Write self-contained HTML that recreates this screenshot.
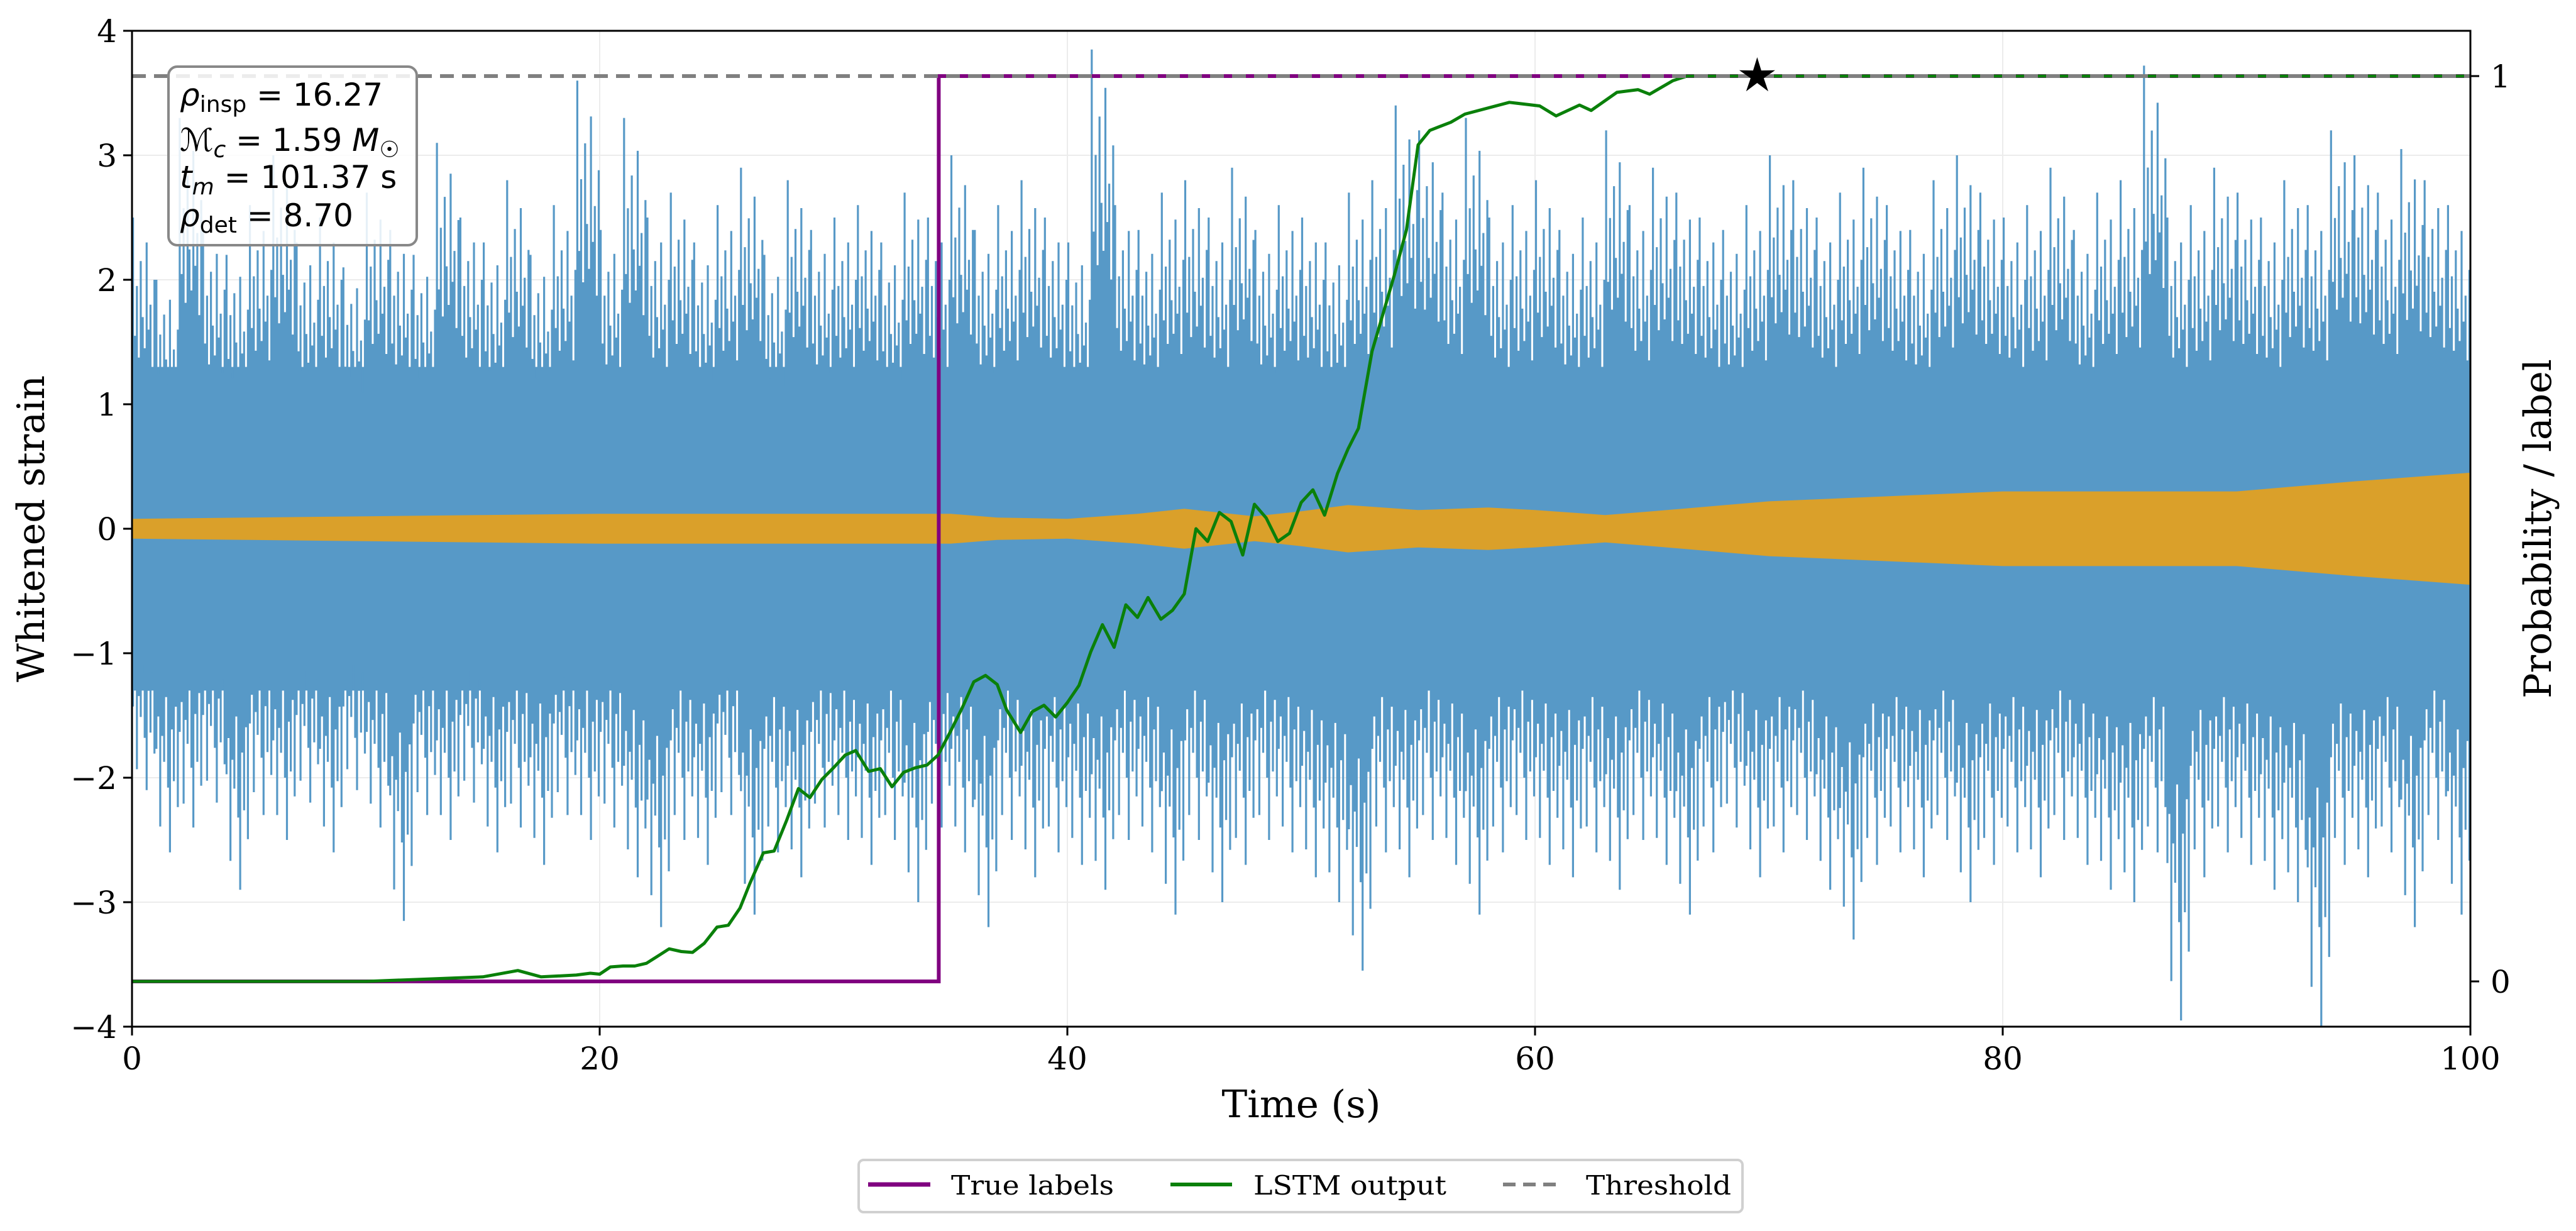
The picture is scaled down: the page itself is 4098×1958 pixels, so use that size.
<!DOCTYPE html>
<html><head><meta charset="utf-8"><style>
html,body{margin:0;padding:0;background:#fff;}
svg{display:block;}
</style></head><body>
<svg id="chart" xmlns="http://www.w3.org/2000/svg" width="4098" height="1958" viewBox="0 0 4098 1958">
<rect width="4098" height="1958" fill="#fff"/>
<g id="grid"></g>
<g id="blue"></g>
<g id="orange"></g>
<g id="over"></g>
<rect x="210" y="49" width="3720" height="1584" fill="none" stroke="#000" stroke-width="3"/>
<g id="axes" font-family="'DejaVu Serif','Liberation Serif',serif" fill="#000"></g>
<text x="2070" y="1777" font-family="'DejaVu Serif','Liberation Serif',serif" font-size="60" text-anchor="middle" textLength="253" lengthAdjust="spacingAndGlyphs">Time (s)</text>
<text transform="translate(70,841) rotate(-90)" font-family="'DejaVu Serif','Liberation Serif',serif" font-size="60" text-anchor="middle">Whitened strain</text>
<text transform="translate(4058,841) rotate(-90)" font-family="'DejaVu Serif','Liberation Serif',serif" font-size="60" text-anchor="middle">Probability / label</text>
<g font-family="'DejaVu Sans','Liberation Sans',sans-serif" font-size="50">
<rect x="268" y="106" width="395" height="284" rx="14" fill="#fff" fill-opacity="0.85" stroke="#888" stroke-width="4"/>
<text x="286" y="168"><tspan font-style="italic">ρ</tspan><tspan font-size="36" dy="10">insp</tspan><tspan dy="-10"> = 16.27</tspan></text>
<text x="286" y="240"><tspan font-style="italic">ℳ</tspan><tspan font-size="36" dy="10" font-style="italic">c</tspan><tspan dy="-10"> = 1.59 </tspan><tspan font-style="italic">M</tspan><tspan font-size="36" dy="10">☉</tspan></text>
<text x="286" y="299"><tspan font-style="italic">t</tspan><tspan font-size="36" dy="10" font-style="italic">m</tspan><tspan dy="-10"> = 101.37 s</tspan></text>
<text x="286" y="360"><tspan font-style="italic">ρ</tspan><tspan font-size="36" dy="10">det</tspan><tspan dy="-10"> = 8.70</tspan></text>
</g>
<g font-family="'DejaVu Serif','Liberation Serif',serif" font-size="42">
<rect x="1366" y="1845" width="1406" height="83" rx="8" fill="#fff" stroke="#d0d0d0" stroke-width="4"/>
<line x1="1381" y1="1884" x2="1480" y2="1884" stroke="#800080" stroke-width="7"/>
<text x="1513" y="1900" textLength="259" lengthAdjust="spacingAndGlyphs">True labels</text>
<line x1="1862" y1="1884" x2="1960" y2="1884" stroke="#0a800a" stroke-width="6"/>
<text x="1994" y="1900" textLength="307" lengthAdjust="spacingAndGlyphs">LSTM output</text>
<line x1="2391" y1="1884" x2="2486" y2="1884" stroke="#808080" stroke-width="6" stroke-dasharray="20,12"/>
<text x="2523" y="1900" textLength="231" lengthAdjust="spacingAndGlyphs">Threshold</text>
</g>
</svg>
<script>
const xTicks = [0,20,40,60,80,100];
const yTicks = [-4,-3,-2,-1,0,1,2,3,4];
const yTickLabels = ['−4','−3','−2','−1','0','1','2','3','4'];
const pTicks = [0,1];
const strainUpper = [2.5,2.0,3.3,2.4,2.2,2.6,3.0,2.3,2.5,2.1,
 2.7,2.4,2.2,3.1,2.5,2.3,2.8,2.2,2.6,3.6,
 2.4,3.3,2.5,2.7,2.3,2.6,2.9,2.2,2.8,2.4,
 2.5,2.6,2.3,2.7,2.5,3.0,2.4,2.6,2.8,2.5,
 2.3,3.85,2.6,2.4,2.7,2.8,2.5,2.9,2.4,2.6,
 2.5,2.3,2.7,2.8,3.4,3.2,2.7,3.3,2.5,2.6,
 2.8,2.4,2.5,3.2,2.6,2.9,2.7,2.5,2.4,2.6,
 3.0,2.8,2.5,2.7,2.9,2.6,2.4,2.8,3.0,2.7,
 2.5,2.6,2.9,2.4,2.7,2.8,3.72,2.5,2.6,2.9,
 2.7,2.5,2.8,2.6,3.2,3.0,2.7,3.05,2.8,2.6];
const strainLower = [-2.1,-2.6,-2.4,-2.2,-2.9,-2.3,-2.5,-2.2,-2.6,-2.1,
 -2.4,-3.15,-2.3,-2.5,-2.2,-2.6,-2.4,-2.7,-2.3,-2.5,
 -2.4,-2.8,-3.2,-2.5,-2.7,-2.3,-3.1,-2.6,-2.8,-2.4,
 -2.5,-2.7,-2.5,-3.0,-2.4,-2.6,-3.2,-2.5,-2.8,-2.6,
 -2.7,-2.9,-2.5,-2.6,-3.1,-2.5,-3.0,-2.7,-2.5,-2.6,
 -2.8,-3.0,-3.55,-2.6,-2.8,-2.5,-2.7,-3.1,-2.6,-2.5,
 -2.7,-2.8,-2.6,-2.9,-2.5,-2.7,-3.1,-2.6,-2.4,-2.8,
 -2.6,-2.5,-2.9,-3.3,-2.7,-2.6,-2.8,-2.5,-3.0,-2.7,
 -2.6,-2.8,-2.5,-2.7,-2.9,-3.0,-2.6,-3.95,-2.8,-2.6,
 -2.7,-2.9,-3.0,-4.0,-2.7,-2.8,-2.6,-3.2,-2.5,-3.1];
const strainCore = 1.3;
const spikeFractions = [1,0.62,0.78,0.55,0.86,0.68,0.58,0.92,0.64,0.72,0.52,0.8];
const signalTimes = [0,5,10,15,20,25,30,35,37,40,43,45,48,50,52,55,58,60,63,65,70,75,80,85,90,95,100];
const signalAmp =   [0.08,0.09,0.1,0.11,0.12,0.12,0.12,0.12,0.09,0.08,0.12,0.16,0.1,0.14,0.19,0.15,0.17,0.15,0.11,0.14,0.22,0.26,0.3,0.3,0.3,0.38,0.45];
const lstmTimes = [0,10,13,15,16.5,17.5,19,19.6,20,20.46,21,21.5,22,22.55,22.97,23.49,23.97,24.47,25.02,25.5,26,26.42,27,27.46,27.98,28.5,28.99,29.5,30,30.5,30.95,31.5,32,32.5,33,33.5,34,34.47,35,35.5,36,36.5,37,37.4,38,38.5,39,39.5,40,40.5,41,41.5,42,42.5,43,43.45,44,44.5,45,45.5,46,46.5,47,47.5,48,48.5,49,49.5,50,50.5,51,51.55,52,52.45,53.03,53.98,54.5,55,55.5,56.4,57,58.9,60.2,60.9,61.9,62.4,63.5,64.4,64.9,65.9,66.5,100];
const lstmProb = [0,0,0.003,0.005,0.012,0.005,0.007,0.009,0.008,0.016,0.017,0.017,0.02,0.029,0.036,0.033,0.032,0.042,0.06,0.062,0.081,0.108,0.142,0.144,0.177,0.213,0.203,0.223,0.236,0.25,0.255,0.232,0.235,0.215,0.231,0.236,0.239,0.25,0.276,0.302,0.331,0.338,0.328,0.3,0.275,0.298,0.305,0.292,0.308,0.327,0.364,0.394,0.369,0.416,0.402,0.424,0.4,0.41,0.428,0.5,0.486,0.518,0.508,0.471,0.527,0.512,0.486,0.495,0.529,0.543,0.515,0.561,0.588,0.611,0.696,0.78,0.83,0.924,0.94,0.949,0.958,0.971,0.967,0.956,0.968,0.962,0.982,0.985,0.98,0.995,1.0,1.0];
const labelStepTime = 34.5;
const thresholdValue = 1.0;
const starTime = 69.5;

const NS='http://www.w3.org/2000/svg';
const X0=210,X1=3930,Y0=49,Y1=1633;
const xs=t=>X0+(t-0)/(100-0)*(X1-X0);
const ys=v=>Y0+(4-v)/8*(Y1-Y0);
const ps=p=>Y0+(1.05-p)/1.1*(Y1-Y0);
function mk(tag,attrs,parent){const e=document.createElementNS(NS,tag);for(const k in attrs)e.setAttribute(k,attrs[k]);parent.appendChild(e);return e;}
const grid=document.getElementById('grid'),axes=document.getElementById('axes');
xTicks.forEach(t=>{
  const g=mk('line',{x1:xs(t),x2:xs(t),y1:Y0,y2:Y1,stroke:'#ececec','stroke-width':2},grid);
  
  
  const tk=mk('line',{x1:xs(t),x2:xs(t),y1:Y1,y2:Y1+14,stroke:'#000','stroke-width':3},axes);
  
  
  const tx=mk('text',{x:xs(t),y:Y1+68,'font-size':50,'text-anchor':'middle'},axes);
  tx.textContent=t;
  
  
});
yTicks.forEach((v,i)=>{
  const g=mk('line',{x1:X0,x2:X1,y1:ys(v),y2:ys(v),stroke:'#ececec','stroke-width':2},grid);
  
  
  const tk=mk('line',{x1:X0-14,x2:X0,y1:ys(v),y2:ys(v),stroke:'#000','stroke-width':3},axes);
  
  
  const tx=mk('text',{x:X0-24,y:ys(v)+18,'font-size':50,'text-anchor':'end'},axes);
  tx.textContent=yTickLabels[i];
  
  
});
pTicks.forEach(p=>{
  const tk=mk('line',{x1:X1,x2:X1+14,y1:ps(p),y2:ps(p),stroke:'#000','stroke-width':3},axes);
  
  
  const tx=mk('text',{x:X1+32,y:ps(p)+18,'font-size':50},axes);
  tx.textContent=p;
  
  
});
const blue=document.getElementById('blue');
const core=mk('rect',{x:X0,y:ys(strainCore),width:X1-X0,height:ys(-strainCore)-ys(strainCore),fill:'#5799c7'},blue);


let d='';
const n=strainUpper.length,bw=100/n,m=spikeFractions.length;
for(let i=0;i<n;i++){
  spikeFractions.forEach((f,j)=>{
    const t=i*bw+(j+0.5)*bw/m;
    const jj=(j+5)%m;
    d+='M'+xs(t).toFixed(1)+' '+ys(strainUpper[i]*f).toFixed(1)+'V'+ys(strainLower[i]*spikeFractions[jj]).toFixed(1);
  });
}
const sp=mk('path',{d:d,stroke:'#5799c7','stroke-width':3.2,fill:'none'},blue);


const orange=document.getElementById('orange');
let od='M'+signalTimes.map((t,i)=>xs(t).toFixed(1)+' '+ys(signalAmp[i]).toFixed(1)).join('L');
for(let i=signalTimes.length-1;i>=0;i--)od+='L'+xs(signalTimes[i]).toFixed(1)+' '+ys(-signalAmp[i]).toFixed(1);
od+='Z';
const op=mk('path',{d:od,fill:'#daa02a'},orange);


const over=document.getElementById('over');
const lab=mk('path',{d:'M'+xs(0)+' '+ps(0)+'H'+xs(labelStepTime)+'V'+ps(1)+'H'+xs(100),stroke:'#800080','stroke-width':6,fill:'none'},over);


const gl=mk('polyline',{points:lstmTimes.map((t,i)=>xs(t).toFixed(1)+','+ps(lstmProb[i]).toFixed(1)).join(' '),stroke:'#0a800a','stroke-width':5,fill:'none','stroke-linejoin':'round'},over);


const th=mk('line',{x1:X0,x2:X1,y1:ps(thresholdValue),y2:ps(thresholdValue),stroke:'#808080','stroke-width':6,'stroke-dasharray':'22,13'},over);


const sx=xs(starTime),sy=ps(1);
let pts=[];for(let k=0;k<10;k++){const r=k%2?11:30,a=-Math.PI/2+k*Math.PI/5;pts.push((sx+r*Math.cos(a)).toFixed(1)+','+(sy+r*Math.sin(a)).toFixed(1));}
const st=mk('polygon',{points:pts.join(' '),fill:'#000'},over);


</script>
</body></html>
